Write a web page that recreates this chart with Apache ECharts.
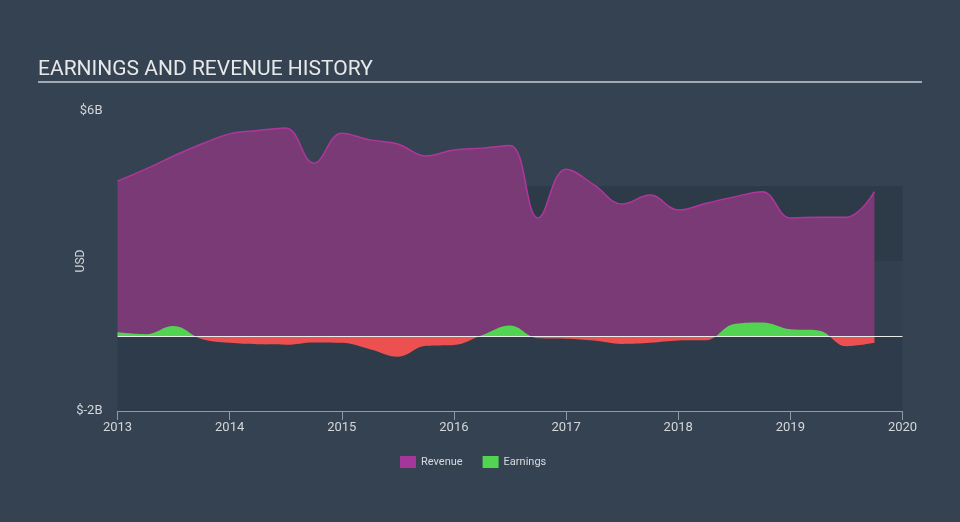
<!DOCTYPE html>
<html>
<head>
<meta charset="utf-8">
<script src="https://cdn.jsdelivr.net/npm/echarts@6/dist/echarts.min.js"></script>
<style>
html,body{margin:0;padding:0;background:#344251;}
#c{width:960px;height:522px;}
</style>
</head>
<body>
<div id="c"></div>
<script>
// Quarter ends as decimal years
const quarters = [2013.0, 2013.25, 2013.5, 2013.75, 2014.0, 2014.25, 2014.5, 2014.75,
  2015.0, 2015.25, 2015.5, 2015.75, 2016.0, 2016.25, 2016.5, 2016.75,
  2017.0, 2017.25, 2017.5, 2017.75, 2018.0, 2018.25, 2018.5, 2018.75,
  2019.0, 2019.25, 2019.5, 2019.75];
// Revenue, USD billions
const revenue = [4.13, 4.45, 4.8, 5.12, 5.39, 5.48, 5.55, 4.61,
  5.41, 5.23, 5.12, 4.8, 4.96, 5.01, 5.08, 3.15,
  4.45, 4.03, 3.52, 3.76, 3.36, 3.54, 3.71, 3.85,
  3.15, 3.17, 3.17, 3.85];
// Earnings, USD billions
const earnings = [0.1, 0.05, 0.27, -0.08, -0.18, -0.22, -0.23, -0.17,
  -0.18, -0.35, -0.55, -0.26, -0.24, 0.02, 0.28, -0.06,
  -0.07, -0.12, -0.21, -0.18, -0.12, -0.11, 0.32, 0.36,
  0.18, 0.15, -0.27, -0.18];
const yTickLabels = [-2, 6];

const chart = echarts.init(document.getElementById('c'), null, {renderer: 'canvas'});
const pair = (xs, ys) => xs.map((x, i) => [x, ys[i]]);

chart.setOption({
  backgroundColor: '#344251',
  animation: false,
  title: {
    text: 'EARNINGS AND REVENUE HISTORY',
    left: 33, top: 54,
    textStyle: {color: '#e6e8ea', fontSize: 21, fontWeight: 'normal', fontFamily: 'Roboto'}
  },
  graphic: [{
    type: 'rect', left: 38, top: 81,
    shape: {width: 884, height: 2},
    style: {fill: '#a3aab2'}
  }],
  legend: {
    left: 395, top: 451,
    itemWidth: 16, itemHeight: 12, itemGap: 20,
    icon: 'rect',
    textStyle: {color: '#d8dbde', fontSize: 11, fontFamily: 'Roboto'},
    data: [{name: 'Revenue', itemStyle: {color: '#a6379a'}}, {name: 'Earnings', itemStyle: {color: '#52d452'}}]
  },
  grid: {left: 117.5, right: 57.5, top: 111, bottom: 111},
  xAxis: {
    type: 'value', min: 2013, max: 2020, interval: 1,
    axisLine: {onZero: false, lineStyle: {color: '#8d9aa8', width: 1}},
    axisTick: {show: true, length: 9, lineStyle: {color: '#8d9aa8'}},
    axisLabel: {color: '#d3d7db', fontSize: 13, fontFamily: 'Roboto', margin: 10,
      formatter: v => String(Math.round(v))},
    splitLine: {show: false}
  },
  yAxis: {
    type: 'value', min: -2, max: 6, interval: 2,
    name: 'USD', nameLocation: 'middle', nameGap: 31, nameRotate: 90, nameMoveOverlap: false,
    nameTextStyle: {color: '#d3d7db', fontSize: 12, fontFamily: 'Roboto'},
    axisLine: {show: false}, axisTick: {show: false},
    axisLabel: {color: '#d3d7db', fontSize: 13, fontFamily: 'Roboto', margin: 15,
      customValues: yTickLabels,
      formatter: v => '$' + v + 'B'},
    splitLine: {show: false},
    splitArea: {show: true, areaStyle: {color: ['#2e3b4a', '#323f4e', '#2d3a48', 'rgba(0,0,0,0)']}}
  },
  visualMap: {
    type: 'piecewise', show: false, seriesIndex: 1, dimension: 1,
    pieces: [{gte: -10, lt: 0, color: '#ec5050'}, {gte: 0, lte: 10, color: '#52d452'}]
  },
  series: [
    {
      type: 'line', name: 'Revenue', data: pair(quarters, revenue), z: 2,
      smooth: 0.4, showSymbol: false, symbol: 'none',
      itemStyle: {color: '#a6379a'},
      lineStyle: {color: '#b0369c', width: 1.5},
      areaStyle: {color: '#7a3a75', opacity: 1},
      markLine: {
        silent: true, symbol: 'none', label: {show: false},
        lineStyle: {color: '#e8eaec', width: 1.2, type: 'solid'},
        data: [{yAxis: 0}]
      }
    },
    {
      type: 'line', name: 'Earnings', data: pair(quarters, earnings), z: 3,
      smooth: 0.4, showSymbol: false, symbol: 'none',
      itemStyle: {color: '#52d452'},
      lineStyle: {width: 0, opacity: 0},
      areaStyle: {opacity: 1}
    }
  ]
});
</script>
</body>
</html>
